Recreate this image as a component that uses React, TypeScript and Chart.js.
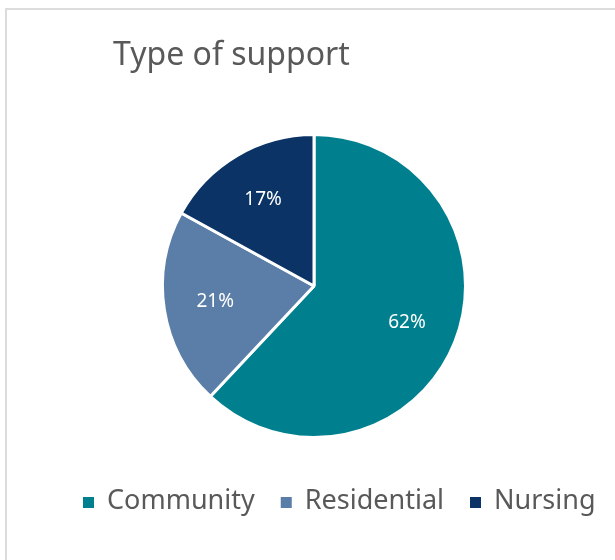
import React, { useEffect, useRef } from "react";
import { Chart, registerables } from "chart.js";

Chart.register(...registerables);

const titleText = "Type of support";
const categories = ["Community", "Residential", "Nursing"];
const shares = [62, 21, 17];
const sliceColors = ["#00808F", "#5B7EA8", "#0B3366"];

const FONT = '"Noto Sans", "DejaVu Sans", sans-serif';
const TEXT_GRAY = "#595959";

const overlayPlugin = {
  id: "overlayText",
  afterDatasetsDraw(chart: any) {
    const ctx = chart.ctx as CanvasRenderingContext2D;
    const meta = chart.getDatasetMeta(0);
    const data = chart.data.datasets[0].data as number[];
    ctx.save();
    ctx.fillStyle = "#FFFFFF";
    ctx.font = `19px ${FONT}`;
    ctx.textAlign = "center";
    ctx.textBaseline = "middle";
    meta.data.forEach((arc: any, i: number) => {
      const { x, y, startAngle, endAngle, outerRadius } = arc.getProps(
        ["x", "y", "startAngle", "endAngle", "outerRadius"],
        true
      );
      const mid = (startAngle + endAngle) / 2;
      const r = outerRadius * 0.66;
      ctx.fillText(`${data[i]}%`, x + Math.cos(mid) * r, y + Math.sin(mid) * r);
    });
    ctx.restore();
  },
  afterDraw(chart: any) {
    const ctx = chart.ctx as CanvasRenderingContext2D;
    ctx.save();
    ctx.fillStyle = TEXT_GRAY;
    ctx.font = `32px ${FONT}`;
    ctx.textAlign = "left";
    ctx.textBaseline = "alphabetic";
    ctx.fillText(titleText, 113, 65);
    ctx.font = `27px ${FONT}`;
    const labels = chart.data.labels as string[];
    const colors = chart.data.datasets[0].backgroundColor as string[];
    let x = 83;
    const box = 11;
    const boxTop = 497;
    const baseline = 509;
    labels.forEach((lab, i) => {
      ctx.fillStyle = colors[i];
      ctx.fillRect(x, boxTop, box, box);
      ctx.fillStyle = TEXT_GRAY;
      ctx.fillText(lab, x + 24, baseline);
      x += 24 + ctx.measureText(lab).width + 26;
    });
    ctx.restore();
  },
};

export default function App() {
  const canvasRef = useRef<HTMLCanvasElement | null>(null);

  useEffect(() => {
    if (!canvasRef.current) return;
    const chart = new Chart(canvasRef.current, {
      type: "pie",
      data: {
        labels: categories,
        datasets: [
          {
            data: shares,
            backgroundColor: sliceColors,
            borderColor: "#FFFFFF",
            borderWidth: 3,
          },
        ],
      },
      options: {
        animation: false,
        responsive: false,
        maintainAspectRatio: false,
        layout: { padding: { left: 13, right: 0, top: 133, bottom: 121 } },
        plugins: {
          legend: { display: false },
          title: { display: false },
          tooltip: { enabled: false },
        },
      },
      plugins: [overlayPlugin],
    });
    return () => chart.destroy();
  }, []);

  return (
    <div
      style={{
        position: "fixed",
        left: 0,
        top: 0,
        width: 615,
        height: 560,
        background: "#FFFFFF",
        overflow: "hidden",
      }}
    >
      <div
        style={{
          position: "absolute",
          left: 5,
          top: 8,
          width: 700,
          height: 700,
          borderTop: "2px solid #DCDCDC",
          borderLeft: "2px solid #DCDCDC",
        }}
      />
      <canvas
        ref={canvasRef}
        width={615}
        height={560}
        style={{ position: "absolute", left: 0, top: 0, width: 615, height: 560 }}
      />
    </div>
  );
}
